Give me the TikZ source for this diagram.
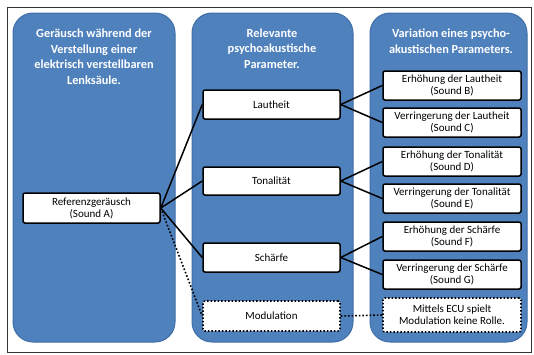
\documentclass[tikz,border=0pt]{standalone}
\usepackage{fontspec}
\setmainfont{Carlito}
\definecolor{panelblue}{HTML}{4F81BD}
\definecolor{paneledge}{HTML}{3F6DA6}
\begin{document}
\begin{tikzpicture}[x=1pt,y=-1pt,
  panel/.style={fill=panelblue,draw=paneledge,line width=1pt,rounded corners=20pt},
  title/.style={text=white,font=\fontsize{12.3}{15.5}\selectfont\bfseries,align=center},
  box/.style={draw=black,fill=white,line width=1.5pt,rounded corners=2pt,align=center,
    font=\fontsize{11}{12}\selectfont,inner sep=0pt},
  dbox/.style={box,dotted,line width=1.6pt},
  conn/.style={draw=black,line width=1.5pt},
  dconn/.style={draw=black,line width=1.6pt,dotted}]
\useasboundingbox (0,0) rectangle (534,354);
\draw[draw=black!80,line width=1pt] (7,7) rectangle (531,352);
% panels
\path[panel] (13,13) rectangle (175,342);
\path[panel] (192,13) rectangle (353,342);
\path[panel] (370,13) rectangle (527,342);
% titles
\node[title] (t1) at (94,56.5) {Geräusch während der\\Verstellung einer\\elektrisch verstellbaren\\Lenksäule.};
\node[title] (t2) at (272,48.7) {Relevante\\psychoakustische\\Parameter.};
\node[title] (t3) at (451,41) {Variation eines psycho-\\akustischen Parameters.};
% boxes
\node[box,minimum width=137,minimum height=30] (ref) at (91.5,208) {Referenzgeräusch\\(Sound A)};
\node[box,minimum width=137,minimum height=29] (laut) at (271.5,104.5) {Lautheit};
\node[box,minimum width=137,minimum height=28] (ton) at (271.5,181) {Tonalität};
\node[box,minimum width=137,minimum height=29] (schaerfe) at (271.5,257.5) {Schärfe};
\node[dbox,minimum width=137,minimum height=30] (mod) at (271.5,316) {Modulation};
\node[box,minimum width=138,minimum height=29] (b) at (452,85.5) {Erhöhung der Lautheit\\(Sound B)};
\node[box,minimum width=138,minimum height=29] (c) at (452,122.5) {Verringerung der Lautheit\\(Sound C)};
\node[box,minimum width=138,minimum height=29] (d) at (452,161.5) {Erhöhung der Tonalität\\(Sound D)};
\node[box,minimum width=138,minimum height=29] (e) at (452,198.5) {Verringerung der Tonalität\\(Sound E)};
\node[box,minimum width=138,minimum height=29] (f) at (452,236.5) {Erhöhung der Schärfe\\(Sound F)};
\node[box,minimum width=138,minimum height=29] (g) at (452,274.5) {Verringerung der Schärfe\\(Sound G)};
\node[dbox,minimum width=138,minimum height=34] (ecu) at (452,315) {Mittels ECU spielt\\Modulation keine Rolle.};
% connectors
\draw[conn] (ref.east) -- (laut.west);
\draw[conn] (ref.east) -- (ton.west);
\draw[conn] (ref.east) -- (schaerfe.west);
\draw[dconn] (ref.east) -- (mod.west);
\draw[conn] (laut.east) -- (b.west);
\draw[conn] (laut.east) -- (c.west);
\draw[conn] (ton.east) -- (d.west);
\draw[conn] (ton.east) -- (e.west);
\draw[conn] (schaerfe.east) -- (f.west);
\draw[conn] (schaerfe.east) -- (g.west);
\draw[dconn] (mod.east) -- (ecu.west);
\end{tikzpicture}
\end{document}
